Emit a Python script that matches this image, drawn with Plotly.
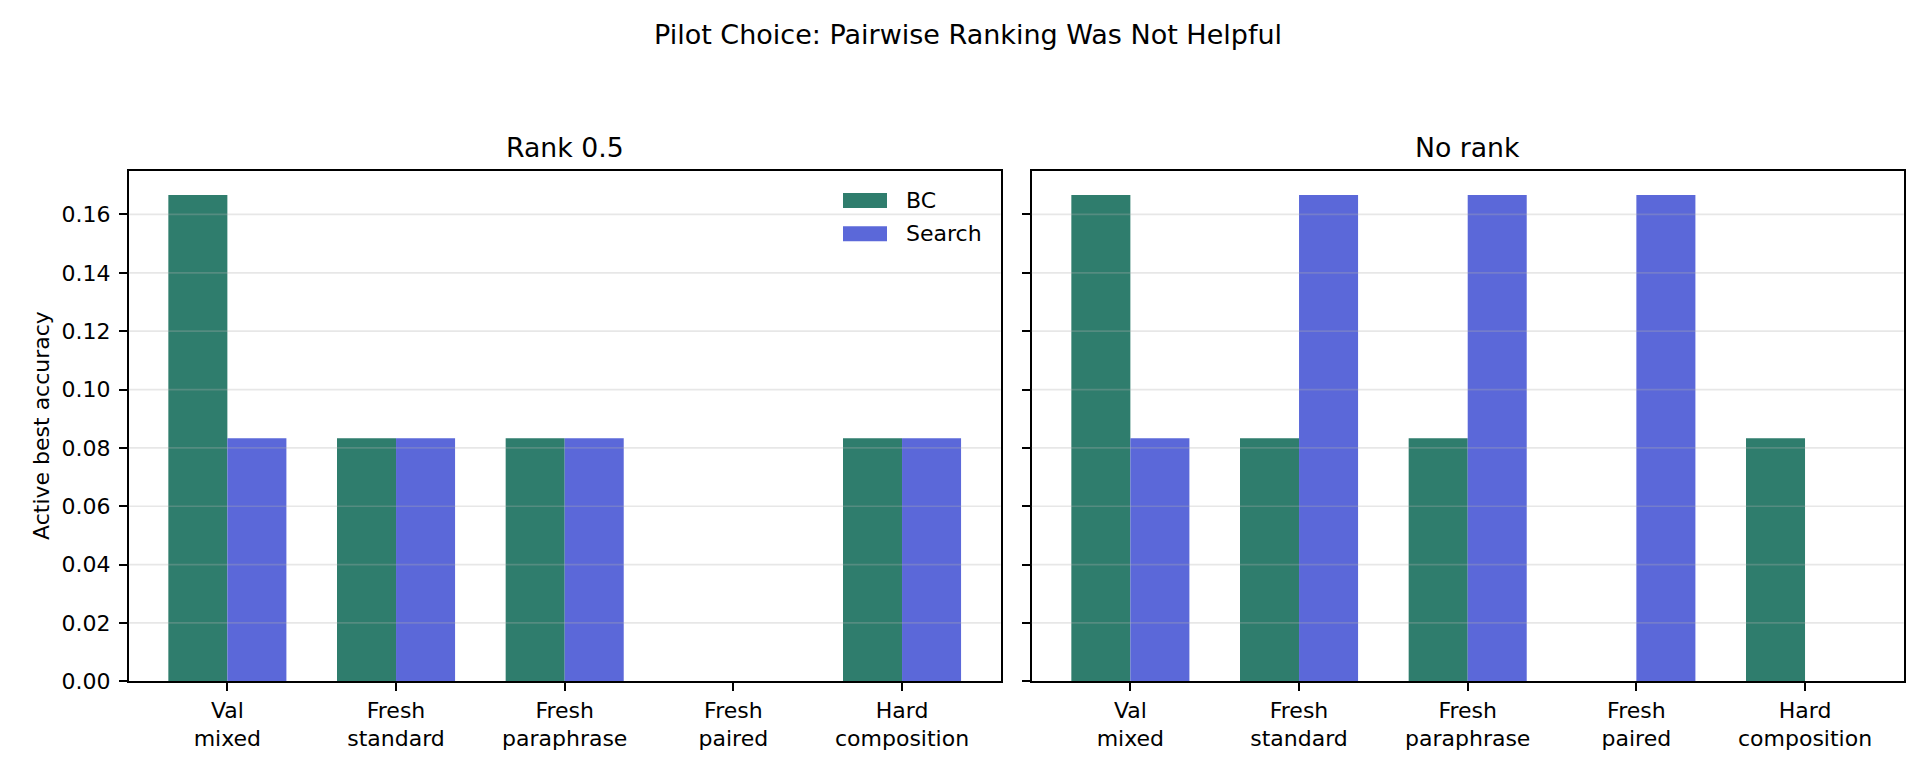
import plotly.graph_objects as go

# values
categories = ["Val<br>mixed", "Fresh<br>standard", "Fresh<br>paraphrase",
              "Fresh<br>paired", "Hard<br>composition"]
rank_bc = [0.1667, 0.0833, 0.0833, 0.0, 0.0833]
rank_search = [0.0833, 0.0833, 0.0833, 0.0, 0.0833]
norank_bc = [0.1667, 0.0833, 0.0833, 0.0, 0.0833]
norank_search = [0.0833, 0.1667, 0.1667, 0.1667, 0.0]
panel_titles = ["Rank 0.5", "No rank"]
series_names = ["BC", "Search"]
ytick_vals = [0.0, 0.02, 0.04, 0.06, 0.08, 0.10, 0.12, 0.14, 0.16]

GREEN = "#2F7D6D"
BLUE = "#5B68D9"
FONT = "DejaVu Sans"
W, H = 1920, 768

# axes boxes in pixels (left, right) and (top, bottom)
ax_px = [(120.7, 992.7), (1023.7, 1895.7)]
top_px, bot_px = 162.7, 673.3
ydom = [1 - bot_px / H, 1 - top_px / H]

fig = go.Figure()

panels = [(rank_bc, rank_search), (norank_bc, norank_search)]
for i, (bc, search) in enumerate(panels):
    xa = "x" if i == 0 else "x2"
    ya = "y" if i == 0 else "y2"
    for name, vals, color in zip(series_names, (bc, search), (GREEN, BLUE)):
        fig.add_trace(go.Bar(
            x=categories, y=vals, name=name,
            marker=dict(color=color, line=dict(width=0)),
            xaxis=xa, yaxis=ya, showlegend=False,
        ))

axis_common = dict(
    showline=True, mirror=True, linecolor="black", linewidth=1.6,
    ticks="outside", ticklen=8, tickwidth=1.6, tickcolor="black",
    showgrid=False, zeroline=False, automargin=False,
    tickfont=dict(family=FONT, size=22, color="black"),
)

layout = dict(
    width=W, height=H,
    margin=dict(l=0, r=0, t=0, b=0),
    paper_bgcolor="white", plot_bgcolor="white",
    barmode="group", bargap=0.3, bargroupgap=0,
    font=dict(family=FONT, size=22, color="black"),
    title=dict(
        text="Pilot Choice: Pairwise Ranking Was Not Helpful",
        x=0.5, xanchor="center", y=1 - 26.4 / H, yanchor="middle",
        font=dict(family=FONT, size=27, color="black"),
    ),
    showlegend=False,
)

for i, (x0, x1) in enumerate(ax_px):
    sfx = "" if i == 0 else "2"
    layout["xaxis" + sfx] = dict(
        axis_common, domain=[x0 / W, x1 / W],
        anchor="y" + sfx, range=[-0.585, 4.585],
        tickangle=0,
    )
    layout["yaxis" + sfx] = dict(
        axis_common, domain=ydom, anchor="x" + sfx,
        range=[0, 0.175], tickvals=ytick_vals, tickformat=".2f",
        showticklabels=(i == 0), ticklabelstandoff=4,
    )

fig.update_layout(**layout)

# light grid drawn above the bars, like the reference
for i in range(2):
    sfx = "" if i == 0 else "2"
    for v in ytick_vals[1:]:
        fig.add_shape(
            type="line", xref="x" + sfx + " domain", yref="y" + sfx,
            x0=0, x1=1, y0=v, y1=v, layer="above",
            line=dict(color="rgba(176,176,176,0.3)", width=1.7),
        )

# legend in the first panel, matplotlib style (wide patches, no frame)
legend_rows = [192.5, 225.8]
for name, color, yc in zip(series_names, (GREEN, BLUE), legend_rows):
    fig.add_shape(
        type="rect", xref="paper", yref="paper",
        x0=835 / W, x1=879 / W, y0=1 - (yc + 7.5) / H, y1=1 - (yc - 7.5) / H,
        fillcolor=color, line=dict(width=0), layer="above",
    )
    fig.add_annotation(
        text=name, xref="paper", yref="paper",
        x=896 / W, y=1 - yc / H, xanchor="left", yanchor="middle",
        showarrow=False, font=dict(family=FONT, size=22, color="black"),
    )

# panel titles
for i, (x0, x1) in enumerate(ax_px):
    fig.add_annotation(
        text=panel_titles[i], xref="paper", yref="paper",
        x=(x0 + x1) / 2 / W, y=1 - 140 / H, xanchor="center", yanchor="middle",
        showarrow=False, font=dict(family=FONT, size=26.7, color="black"),
    )

# y-axis label
fig.add_annotation(
    text="Active best accuracy", xref="paper", yref="paper",
    x=34 / W, y=(ydom[0] + ydom[1]) / 2, xanchor="center", yanchor="middle",
    textangle=-90, showarrow=False,
    font=dict(family=FONT, size=22, color="black"),
)

fig.write_html("out.html")
